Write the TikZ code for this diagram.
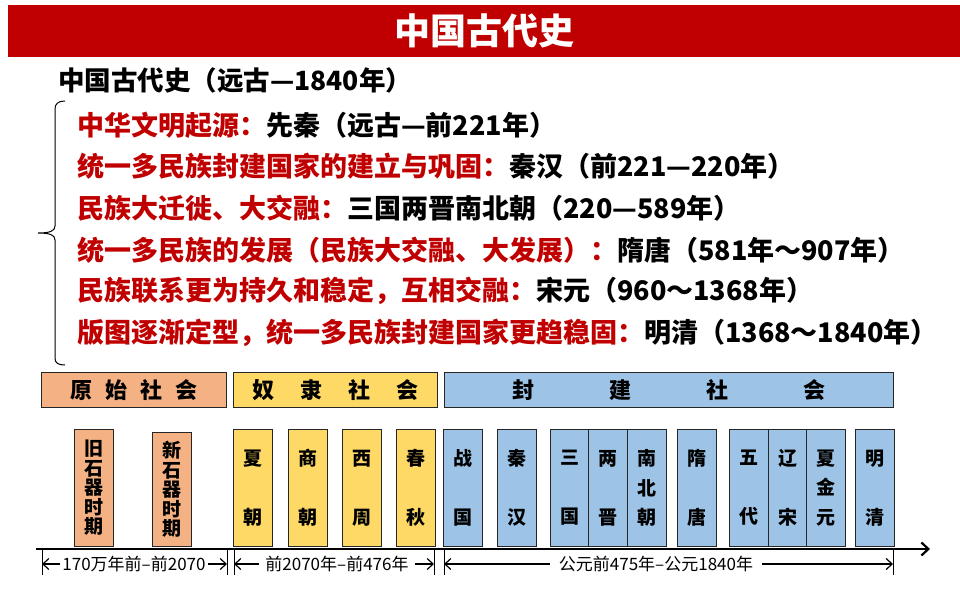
\documentclass[tikz,border=0pt]{standalone}
\usepackage{fontspec}
\setmainfont{Noto Sans CJK SC}
\usetikzlibrary{arrows.meta}
\definecolor{titlered}{HTML}{C00000}
\definecolor{txtred}{HTML}{C00000}
\definecolor{orng}{HTML}{F4B183}
\definecolor{yell}{HTML}{FFD966}
\definecolor{blu}{HTML}{9DC3E6}
\tikzset{
  bodyline/.style={anchor=west, inner sep=0pt, font=\bfseries\fontsize{27}{27}\selectfont},
  erabar/.style={draw=black!85, line width=0.9pt, inner sep=0pt, minimum height=35pt, anchor=north west, font=\bfseries\fontsize{22}{22}\selectfont},
  pbox/.style={draw=black!85, line width=0.9pt, inner sep=0pt, minimum width=39pt, minimum height=117pt, anchor=south west, align=center, font=\bfseries\fontsize{19}{29.5}\selectfont},
  pboxfive/.style={pbox, font=\bfseries\fontsize{19}{19.5}\selectfont},
  lab/.style={font=\fontsize{17}{17}\selectfont, inner ysep=0pt},
  labarrow/.style={line width=1.2pt, -{Straight Barb[length=6pt,width=11pt]}},
  tickline/.style={line width=0.9pt},
}
\begin{document}
\begin{tikzpicture}[x=1pt,y=-1pt]
\useasboundingbox (0,0) rectangle (960,600);
% title bar
\fill[titlered] (8,5) rectangle (960,57);
\node[white, font=\bfseries\fontsize{36}{36}\selectfont] (title) at (484,31) {中国古代史};
\node[anchor=west, inner sep=0pt, font=\bfseries\fontsize{26.5}{26.5}\selectfont] (sub) at (58,80) {中国古代史（远古—1840年）};
% brace
\draw[line width=1pt] (65,101) .. controls (58,101) and (55,104) .. (55,109) -- (55,226)
  .. controls (55,231) and (50,233) .. (38,233)
  .. controls (50,233) and (55,235) .. (55,240) -- (55,358)
  .. controls (55,363) and (58,365) .. (65,365);
% lines
\node[bodyline] (r1) at (77,125) {\textcolor{txtred}{中华文明起源：}先秦（远古—前221年）};
\node[bodyline] (r2) at (77,166) {\textcolor{txtred}{统一多民族封建国家的建立与巩固：}秦汉（前221—220年）};
\node[bodyline] (r3) at (77,208) {\textcolor{txtred}{民族大迁徙、大交融：}三国两晋南北朝（220—589年）};
\node[bodyline] (r4) at (77,250) {\textcolor{txtred}{统一多民族的发展（民族大交融、大发展）：}隋唐（581年～907年）};
\node[bodyline] (r5) at (77,291) {\textcolor{txtred}{民族联系更为持久和稳定，互相交融：}宋元（960～1368年）};
\node[bodyline] (r6) at (77,333) {\textcolor{txtred}{版图逐渐定型，统一多民族封建国家更趋稳固：}明清（1368～1840年）};
% era bars
\node[erabar, fill=orng, minimum width=185pt] (e1) at (41,372) {原\hspace{13pt}始\hspace{13pt}社\hspace{13pt}会};
\node[erabar, fill=yell, minimum width=204pt] (e2) at (233,372) {奴\hspace{26pt}隶\hspace{26pt}社\hspace{26pt}会};
\node[erabar, fill=blu, minimum width=449pt] (e3) at (444,372) {封\hspace{75pt}建\hspace{75pt}社\hspace{75pt}会};
% period boxes
\node[pboxfive, fill=orng] (p1) at (74,547) {旧\\石\\器\\时\\期};
\node[pboxfive, fill=orng, minimum height=114pt] (p2) at (152,547) {新\\石\\器\\时\\期};
\node[pbox, fill=yell] (p3) at (233,547) {夏\\[29.5pt]朝};
\node[pbox, fill=yell] (p4) at (288,547) {商\\[29.5pt]朝};
\node[pbox, fill=yell] (p5) at (342,547) {西\\[29.5pt]周};
\node[pbox, fill=yell] (p6) at (396,547) {春\\[29.5pt]秋};
\node[pbox, fill=blu] (p7) at (443,547) {战\\[29.5pt]国};
\node[pbox, fill=blu] (p8) at (497,547) {秦\\[29.5pt]汉};
\node[pbox, fill=blu] (p9) at (550,547) {三\\[29.5pt]国};
\node[pbox, fill=blu] (p10) at (588,547) {两\\[29.5pt]晋};
\node[pbox, fill=blu] (p11) at (627,547) {南\\北\\朝};
\node[pbox, fill=blu] (p12) at (677,547) {隋\\[29.5pt]唐};
\node[pbox, fill=blu] (p13) at (729,547) {五\\[29.5pt]代};
\node[pbox, fill=blu] (p14) at (768,547) {辽\\[29.5pt]宋};
\node[pbox, fill=blu] (p15) at (806,547) {夏\\金\\元};
\node[pbox, fill=blu] (p16) at (855,547) {明\\[29.5pt]清};
% axis
\coordinate (axL) at (36,549);
\coordinate (axR) at (930,549);
\draw[line width=2.2pt, -{Straight Barb[length=7pt,width=13pt]}] (axL) -- (axR);
% ticks
\foreach \n/\xx in {k1/42,k2/227,k3/234,k4/434,k5/444,k6/893}{
  \coordinate (\n t) at (\xx,549);
  \coordinate (\n b) at (\xx,575);
  \draw[tickline] (\n t) -- (\n b);
}
% labels
\node[lab, inner xsep=2pt] (l1) at (134,564) {170万年前–前2070};
\node[lab, inner xsep=6pt] (l2) at (337,564) {前2070年–前476年};
\node[lab, inner xsep=9pt] (l3) at (656,564) {公元前475年–公元1840年};
\draw[labarrow] (l1.west) -- (l1.west -| k1t);
\draw[labarrow] (l1.east) -- (l1.east -| k2t);
\draw[labarrow] (l2.west) -- (l2.west -| k3t);
\draw[labarrow] (l2.east) -- (l2.east -| k4t);
\draw[labarrow] (l3.west) -- (l3.west -| k5t);
\draw[labarrow] (l3.east) -- (l3.east -| k6t);
\end{tikzpicture}
\end{document}
